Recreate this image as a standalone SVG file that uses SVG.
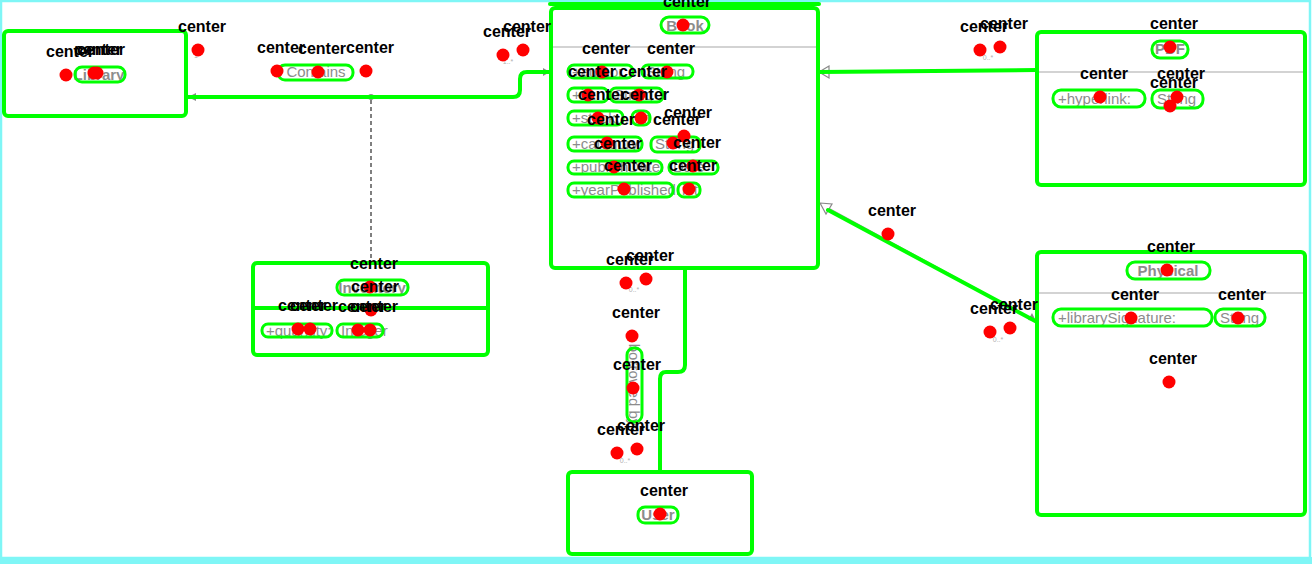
<svg xmlns="http://www.w3.org/2000/svg" width="1312" height="564" viewBox="0 0 1312 564">
  <style>
    .box{fill:#fff;stroke:#b8b8b8;stroke-width:1.5}
    .div{stroke:#c4c4c4;stroke-width:1.5}
    .t{font-family:"Liberation Sans",Arial,sans-serif;font-size:15px;fill:#8c8c8c}
    .tb{font-weight:bold}
    .card{font-family:"Liberation Sans",Arial,sans-serif;font-size:7px;fill:#b0b0b0}
    .edge{fill:none;stroke:#9a9a9a;stroke-width:1.5}
    .dash{fill:none;stroke:#555;stroke-width:1.5;stroke-dasharray:4 3}
    .mk{fill:#8a8a8a}
    .g{fill:none;stroke:#00ff00;stroke-width:4;stroke-linejoin:round;stroke-linecap:round}
    .gt{fill:none;stroke:#00ff00;stroke-width:3}
    .dot{fill:#ff0000}
    .lbl{font-family:"Liberation Sans",Arial,sans-serif;font-size:16px;font-weight:bold;fill:#000}
  </style>
  <defs>
    <circle id="d" r="6.5" class="dot"/>
  </defs>

  <rect width="1312" height="564" fill="#fff"/>
  <!-- outer frame -->
  <rect x="1" y="1" width="1309" height="557" fill="none" stroke="#7ff6f6" stroke-width="2.5"/>
  <rect x="0" y="557" width="1312" height="7" fill="#7ff6f6"/>

  <!-- connectors -->
  <g id="connectors">
    <path class="edge" d="M188,97 H513 Q520,97 520,90 V79 Q520,72 527,72 H550"/>
    <path class="dash" d="M371,100 V262"/>
    <circle cx="371" cy="97" r="3" class="mk"/>
    <path class="edge" d="M818,72 L1037,70"/>
    <path class="edge" d="M826,207 L1036,321"/>
    <path class="edge" d="M685,270 V365 Q685,372 678,372 H666 Q660,372 660,379 V470"/>
    <path class="mk" d="M188,97 l8,-4 v8 z"/>
    <path class="mk" d="M550,72 l-7,-4 v8 z"/>
    <path fill="#fff" stroke="#888" stroke-width="1.2" d="M819,72 l10,-6 v12 z"/>
    <path fill="#fff" stroke="#888" stroke-width="1.2" d="M820,203 l12,1 l-6,10 z"/>
    <path class="mk" d="M1036,321 l-8,-1 l4,-7 z"/>
    <path class="mk" d="M685,270 l-5,-6 h10 z"/>
    <path class="mk" d="M660,470 l-5,6 h10 z"/>
    <text class="t" x="316" y="77" text-anchor="middle">Contains</text>
    <text class="t" x="0" y="0" transform="translate(629,385) rotate(90)" text-anchor="middle" font-size="12">borrowed by</text>
    <text class="card" x="196" y="58" text-anchor="middle">1</text>
    <text class="card" x="508" y="64" text-anchor="middle">1..*</text>
    <text class="card" x="988" y="60" text-anchor="middle">0..*</text>
    <text class="card" x="998" y="342" text-anchor="middle">0..*</text>
    <text class="card" x="634" y="292" text-anchor="middle">0..*</text>
    <text class="card" x="625" y="463" text-anchor="middle">0..*</text>
  </g>

  <!-- classes -->
  <g id="library">
    <rect class="box" x="5" y="32" width="180" height="83" rx="2"/>
    <text class="t tb" x="99" y="80" text-anchor="middle">Library</text>
  </g>

  <g id="book">
    <rect class="box" x="551" y="8" width="267" height="260" rx="2"/>
    <text class="t tb" x="685" y="31" text-anchor="middle">Book</text>
    <line class="div" x1="552" y1="47" x2="817" y2="47"/>
    <text class="t" x="572" y="77">+author:<tspan x="646">String</tspan></text>
    <text class="t" x="572" y="100">+id:<tspan x="614">String</tspan></text>
    <text class="t" x="572" y="123">+stock:<tspan x="635">int</tspan></text>
    <text class="t" x="572" y="149">+category:<tspan x="655">String</tspan></text>
    <text class="t" x="572" y="172">+publishDate:<tspan x="673">Date</tspan></text>
    <text class="t" x="572" y="195">+yearPublished:<tspan x="682">int</tspan></text>
  </g>

  <g id="pdf">
    <rect class="box" x="1037" y="32" width="268" height="153" rx="2"/>
    <text class="t tb" x="1170" y="54" text-anchor="middle">PDF</text>
    <line class="div" x1="1038" y1="72" x2="1304" y2="72"/>
    <text class="t" x="1058" y="104">+hyperlink:<tspan x="1157">String</tspan></text>
  </g>

  <g id="physical">
    <rect class="box" x="1037" y="252" width="268" height="263" rx="2"/>
    <text class="t tb" x="1168" y="276" text-anchor="middle">Physical</text>
    <line class="div" x1="1038" y1="293" x2="1304" y2="293"/>
    <text class="t" x="1058" y="323">+librarySignature:<tspan x="1220">String</tspan></text>
  </g>

  <g id="inventory">
    <rect class="box" x="253" y="263" width="235" height="92" rx="2"/>
    <text class="t tb" x="372" y="293" text-anchor="middle">Inventory</text>
    <line class="div" x1="254" y1="307" x2="487" y2="307"/>
    <text class="t" x="266" y="336">+quantity:<tspan x="341">Integer</tspan></text>
  </g>

  <g id="user">
    <rect class="box" x="568" y="472" width="184" height="82" rx="2"/>
    <text class="t tb" x="658" y="520" text-anchor="middle">User</text>
  </g>

  <!-- contour overlay -->
  <g id="contours">
    <rect class="g" x="4" y="31" width="182" height="85" rx="4"/>
    <rect class="g" x="551" y="8" width="267" height="260" rx="4"/>
    <line class="g" x1="550" y1="4" x2="819" y2="4"/>
    <rect class="g" x="1037" y="32" width="268" height="153" rx="4"/>
    <rect class="g" x="1037" y="252" width="268" height="263" rx="4"/>
    <rect class="g" x="253" y="263" width="235" height="92" rx="4"/>
    <line class="g" x1="254" y1="308" x2="487" y2="308"/>
    <rect class="g" x="568" y="472" width="184" height="82" rx="4"/>
    <path class="g" d="M188,97 H513 Q520,97 520,90 V79 Q520,72 527,72 H550"/>
    <path class="g" d="M820,72 L1037,70"/>
    <path class="g" d="M828,210 L1037,322"/>
    <path class="g" d="M685,270 V365 Q685,372 678,372 H666 Q660,372 660,379 V470"/>

    <rect class="gt" x="75" y="67" width="50" height="15" rx="7"/>
    <rect class="gt" x="278" y="65" width="75" height="15" rx="7"/>
    <rect class="gt" x="661" y="17" width="48" height="16" rx="8"/>
    <rect class="gt" x="568" y="65" width="65" height="13" rx="6"/>
    <rect class="gt" x="642" y="65" width="51" height="13" rx="6"/>
    <rect class="gt" x="568" y="88" width="40" height="14" rx="6"/>
    <rect class="gt" x="610" y="88" width="53" height="14" rx="6"/>
    <rect class="gt" x="568" y="111" width="55" height="14" rx="6"/>
    <rect class="gt" x="632" y="111" width="18" height="14" rx="6"/>
    <rect class="gt" x="568" y="137" width="74" height="14" rx="6"/>
    <rect class="gt" x="651" y="137" width="49" height="15" rx="6"/>
    <rect class="gt" x="568" y="161" width="94" height="13" rx="6"/>
    <rect class="gt" x="669" y="161" width="49" height="13" rx="6"/>
    <rect class="gt" x="568" y="183" width="105" height="14" rx="6"/>
    <rect class="gt" x="678" y="183" width="22" height="14" rx="6"/>
    <rect class="gt" x="1152" y="41" width="36" height="17" rx="8"/>
    <rect class="gt" x="1053" y="90" width="92" height="17" rx="8"/>
    <rect class="gt" x="1152" y="90" width="51" height="18" rx="8"/>
    <rect class="gt" x="1127" y="262" width="83" height="17" rx="8"/>
    <rect class="gt" x="1053" y="309" width="159" height="17" rx="8"/>
    <rect class="gt" x="1215" y="309" width="50" height="17" rx="8"/>
    <rect class="gt" x="337" y="280" width="71" height="15" rx="7"/>
    <rect class="gt" x="262" y="324" width="70" height="13" rx="6"/>
    <rect class="gt" x="337" y="324" width="46" height="13" rx="6"/>
    <rect class="gt" x="638" y="507" width="40" height="16" rx="7"/>
    <rect class="gt" x="627" y="348" width="15" height="74" rx="7"/>
  </g>

  <!-- anchor points -->
  <g id="anchors">
    <use href="#d" x="66" y="75"/><use href="#d" x="94" y="73"/><use href="#d" x="97" y="73"/>
    <use href="#d" x="198" y="50"/>
    <use href="#d" x="277" y="71"/><use href="#d" x="318" y="72"/><use href="#d" x="366" y="71"/>
    <use href="#d" x="503" y="55"/><use href="#d" x="523" y="50"/>
    <use href="#d" x="683" y="25"/>
    <use href="#d" x="602" y="72"/><use href="#d" x="667" y="72"/>
    <use href="#d" x="588" y="95"/><use href="#d" x="639" y="95"/>
    <use href="#d" x="598" y="118"/><use href="#d" x="641" y="118"/>
    <use href="#d" x="607" y="143"/><use href="#d" x="673" y="143"/><use href="#d" x="684" y="136"/>
    <use href="#d" x="614" y="167"/><use href="#d" x="693" y="166"/>
    <use href="#d" x="624" y="189"/><use href="#d" x="689" y="189"/>
    <use href="#d" x="626" y="283"/><use href="#d" x="646" y="279"/>
    <use href="#d" x="632" y="336"/><use href="#d" x="633" y="388"/>
    <use href="#d" x="617" y="453"/><use href="#d" x="637" y="449"/>
    <use href="#d" x="660" y="514"/>
    <use href="#d" x="370" y="287"/><use href="#d" x="371" y="310"/>
    <use href="#d" x="298" y="329"/><use href="#d" x="310" y="329"/><use href="#d" x="358" y="330"/><use href="#d" x="370" y="330"/>
    <use href="#d" x="888" y="234"/>
    <use href="#d" x="980" y="50"/><use href="#d" x="1000" y="47"/>
    <use href="#d" x="1170" y="47"/><use href="#d" x="1100" y="97"/><use href="#d" x="1177" y="97"/><use href="#d" x="1170" y="106"/>
    <use href="#d" x="990" y="332"/><use href="#d" x="1010" y="328"/>
    <use href="#d" x="1167" y="270"/><use href="#d" x="1131" y="318"/><use href="#d" x="1238" y="318"/><use href="#d" x="1169" y="382"/>
  </g>

  <!-- anchor labels -->
  <g id="anchor-labels" class="lbl">
    <text x="46" y="57">center</text><text x="74" y="55">center</text><text x="77" y="55">center</text>
    <text x="178" y="32">center</text>
    <text x="257" y="53">center</text><text x="298" y="54">center</text><text x="346" y="53">center</text>
    <text x="483" y="37">center</text><text x="503" y="32">center</text>
    <text x="663" y="7">center</text>
    <text x="582" y="54">center</text><text x="647" y="54">center</text>
    <text x="568" y="77">center</text><text x="619" y="77">center</text>
    <text x="578" y="100">center</text><text x="621" y="100">center</text>
    <text x="587" y="125">center</text><text x="653" y="125">center</text><text x="664" y="118">center</text>
    <text x="594" y="149">center</text><text x="673" y="148">center</text>
    <text x="604" y="171">center</text><text x="669" y="171">center</text>
    <text x="606" y="265">center</text><text x="626" y="261">center</text>
    <text x="612" y="318">center</text><text x="613" y="370">center</text>
    <text x="597" y="435">center</text><text x="617" y="431">center</text>
    <text x="640" y="496">center</text>
    <text x="350" y="269">center</text><text x="351" y="292">center</text>
    <text x="278" y="311">center</text><text x="290" y="311">center</text><text x="338" y="312">center</text><text x="350" y="312">center</text>
    <text x="868" y="216">center</text>
    <text x="960" y="32">center</text><text x="980" y="29">center</text>
    <text x="1150" y="29">center</text><text x="1080" y="79">center</text><text x="1157" y="79">center</text><text x="1150" y="88">center</text>
    <text x="970" y="314">center</text><text x="990" y="310">center</text>
    <text x="1147" y="252">center</text><text x="1111" y="300">center</text><text x="1218" y="300">center</text><text x="1149" y="364">center</text>
  </g>
</svg>
